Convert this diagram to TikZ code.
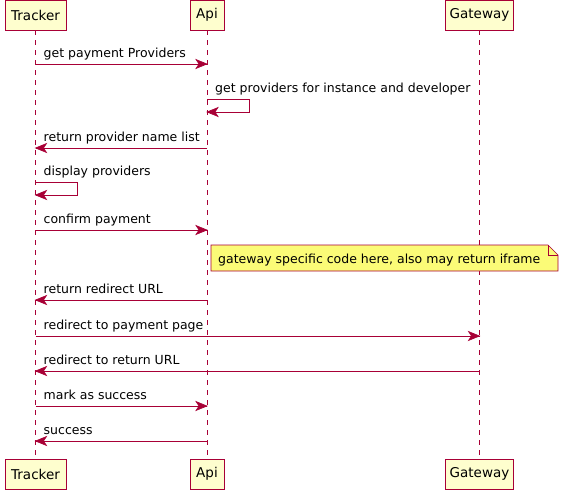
\documentclass[tikz,border=0pt]{standalone}
\usepackage{fontspec}
\setmainfont{DejaVu Sans}
\usepackage{xcolor}
\usetikzlibrary{calc}

\definecolor{umlred}{HTML}{A80036}
\definecolor{umlbox}{HTML}{FEFECE}
\definecolor{umlnote}{HTML}{FBFB77}

\tikzset{
  participant/.style={draw=umlred,fill=umlbox,line width=0.8pt,minimum height=30pt,inner sep=0pt,font=\fontsize{13.5}{15}\selectfont},
  lifeline/.style={umlred,dash pattern=on 5pt off 5pt,line width=0.6pt},
  msg/.style={umlred,line width=0.8pt},
  msgtext/.style={anchor=base west,inner sep=0pt,font=\fontsize{12.5}{14}\selectfont,text=black},
  headr/.pic={\filldraw[umlred,line width=0.6pt,line join=miter] (0,0) -- (-11,-4.5) -- (-8,0) -- (-11,4.5) -- cycle;},
  headl/.pic={\filldraw[umlred,line width=0.6pt,line join=miter] (0,0) -- (11,-4.5) -- (8,0) -- (11,4.5) -- cycle;}
}

\begin{document}
\begin{tikzpicture}[x=1pt,y=-1pt]
                \useasboundingbox (0,0) rectangle (564,490);

                % participants
                \node[participant,minimum width=61pt] (trackerTop) at (35.5,15) {Tracker};
                \node[participant,minimum width=34pt] (apiTop) at (207,15) {Api};
                \node[participant,minimum width=68pt] (gatewayTop) at (479.5,15) {Gateway};
                \node[participant,minimum width=61pt] (trackerBot) at (35.5,474) {Tracker};
                \node[participant,minimum width=34pt] (apiBot) at (207,474) {Api};
                \node[participant,minimum width=68pt] (gatewayBot) at (479.5,474) {Gateway};

                % lifelines
                \foreach \p in {tracker,api,gateway}{
                	\draw[lifeline] (\p Top.south) -- (\p Bot.north);
                }

                % message rows
                \foreach \n/\y in {m1/64,m2/99,m2b/112,m3/148,m4/182,m4b/195,m5/230,m6/300,m7/336,m8/371,m9/406,m10/441}{
                	\coordinate (\n) at (0,\y);
                }

                \draw[msg] (trackerTop |- m1) -- (apiTop |- m1) pic {headr};
                \node[msgtext] (t1) at ($(trackerTop |- m1)+(8,-7)$) {get payment Providers};

                \coordinate (selfApi) at (249,99);
                \draw[msg] (apiTop |- m2) -- (selfApi) -- (selfApi |- m2b) -- (apiTop |- m2b) pic {headl};
                \node[msgtext] (t2) at ($(apiTop |- m2)+(8,-7)$) {get providers for instance and developer};

                \draw[msg] (apiTop |- m3) -- (trackerTop |- m3) pic {headl};
                \node[msgtext] (t3) at ($(trackerTop |- m3)+(8,-7)$) {return provider name list};

                \coordinate (selfTracker) at (77,182);
                \draw[msg] (trackerTop |- m4) -- (selfTracker) -- (selfTracker |- m4b) -- (trackerTop |- m4b) pic {headl};
                \node[msgtext] (t4) at ($(trackerTop |- m4)+(8,-7)$) {display providers};

                \draw[msg] (trackerTop |- m5) -- (apiTop |- m5) pic {headr};
                \node[msgtext] (t5) at ($(trackerTop |- m5)+(8,-7)$) {confirm payment};

                % note
                \draw[umlred,fill=umlnote,line width=0.6pt] (211,245) -- (548,245) -- (558,255) -- (558,271) -- (211,271) -- cycle;
                \draw[umlred,line width=0.6pt] (548,245) -- (548,255) -- (558,255);
                \node[msgtext] (note) at (218,263) {gateway specific code here, also may return iframe};

                \draw[msg] (apiTop |- m6) -- (trackerTop |- m6) pic {headl};
                \node[msgtext] (t6) at ($(trackerTop |- m6)+(8,-7)$) {return redirect URL};

                \draw[msg] (trackerTop |- m7) -- (gatewayTop |- m7) pic {headr};
                \node[msgtext] (t7) at ($(trackerTop |- m7)+(8,-7)$) {redirect to payment page};

                \draw[msg] (gatewayTop |- m8) -- (trackerTop |- m8) pic {headl};
                \node[msgtext] (t8) at ($(trackerTop |- m8)+(8,-7)$) {redirect to return URL};

                \draw[msg] (trackerTop |- m9) -- (apiTop |- m9) pic {headr};
                \node[msgtext] (t9) at ($(trackerTop |- m9)+(8,-7)$) {mark as success};

                \draw[msg] (apiTop |- m10) -- (trackerTop |- m10) pic {headl};
                \node[msgtext] (t10) at ($(trackerTop |- m10)+(8,-7)$) {success};
\end{tikzpicture}
\end{document}
